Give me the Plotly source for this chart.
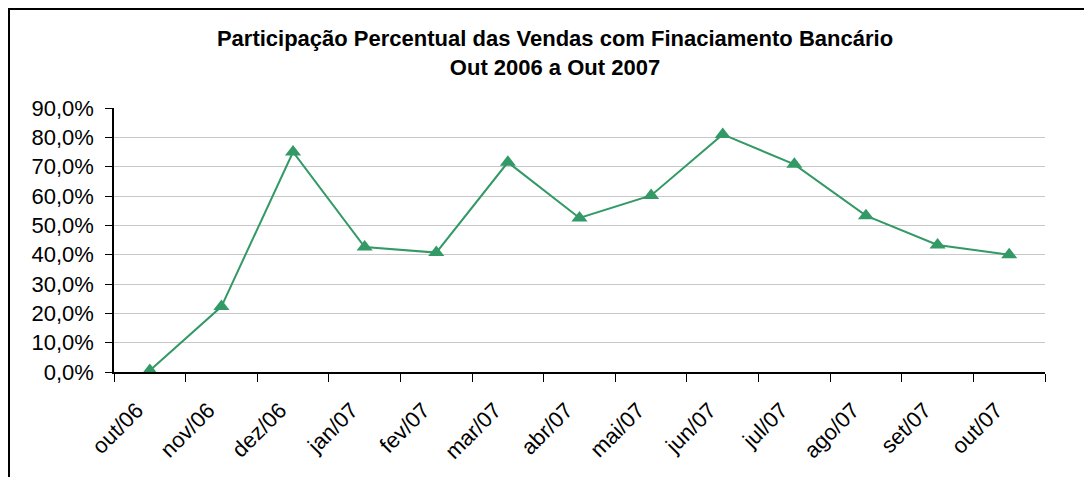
import plotly.graph_objects as go

months = ["out/06", "nov/06", "dez/06", "jan/07", "fev/07", "mar/07", "abr/07",
          "mai/07", "jun/07", "jul/07", "ago/07", "set/07", "out/07"]
share_pct = [0.5, 22.3, 75.0, 42.6, 40.7, 71.5, 52.5, 60.2, 81.0, 70.8, 53.3, 43.3, 40.0]
y_ticks = [0, 10, 20, 30, 40, 50, 60, 70, 80, 90]

OFF = 8  # page offset of the figure inside the window
W, H = 1092 - OFF, 477 - OFF
L, R, T, B = 114 - OFF, 1045 - OFF, 108 - OFF, 372 - OFF
pw, ph = R - L, B - T

fig = go.Figure()
fig.add_trace(go.Scatter(
    x=months, y=[v / 100 for v in share_pct], mode="lines+markers",
    line=dict(color="#339966", width=2),
    marker=dict(symbol="triangle-up", size=14, color="#339966"),
    showlegend=False, cliponaxis=False,
))

font = "Liberation Sans, Arial, sans-serif"
fig.update_layout(
    width=W, height=H,
    margin=dict(l=L, r=W - R, t=T, b=H - B, autoexpand=False),
    paper_bgcolor="white", plot_bgcolor="white",
    separators=",.",
    font=dict(family=font, size=22, color="black"),
    title=dict(
        text="<b>Participação Percentual das Vendas com Finaciamento Bancário<br>Out 2006 a Out 2007</b>",
        x=(555 - OFF) / W, xanchor="center", y=1 - 38 / H, yanchor="top",
        font=dict(family=font, size=22, color="black"),
    ),
    xaxis=dict(
        type="category", range=[-0.5, len(months) - 0.5],
        showgrid=False, showline=True, linecolor="black", linewidth=1.5,
        ticks="outside", ticklen=8, tickcolor="black", tickson="boundaries",
        tickangle=-45, tickfont=dict(size=22), automargin=False,
        ticklabelstandoff=15, ticklabelshift=-13,
    ),
    yaxis=dict(
        range=[0, 0.9], tickvals=[v / 100 for v in y_ticks], tickformat=".1%",
        showgrid=True, gridcolor="#c8c8c8", gridwidth=1,
        showline=True, linecolor="black", linewidth=1.5,
        ticks="outside", ticklen=7, tickcolor="black", zeroline=False,
        tickfont=dict(size=22), automargin=False, ticklabelstandoff=7,
    ),
    shapes=[dict(
        type="rect", xref="paper", yref="paper",
        x0=(1 - L) / pw, x1=(W + 10 - L) / pw,
        y0=(B - (H + 10)) / ph, y1=(B - 1) / ph,
        line=dict(color="black", width=2), fillcolor="rgba(0,0,0,0)", layer="below",
    )],
)

fig.write_html("out.html")
